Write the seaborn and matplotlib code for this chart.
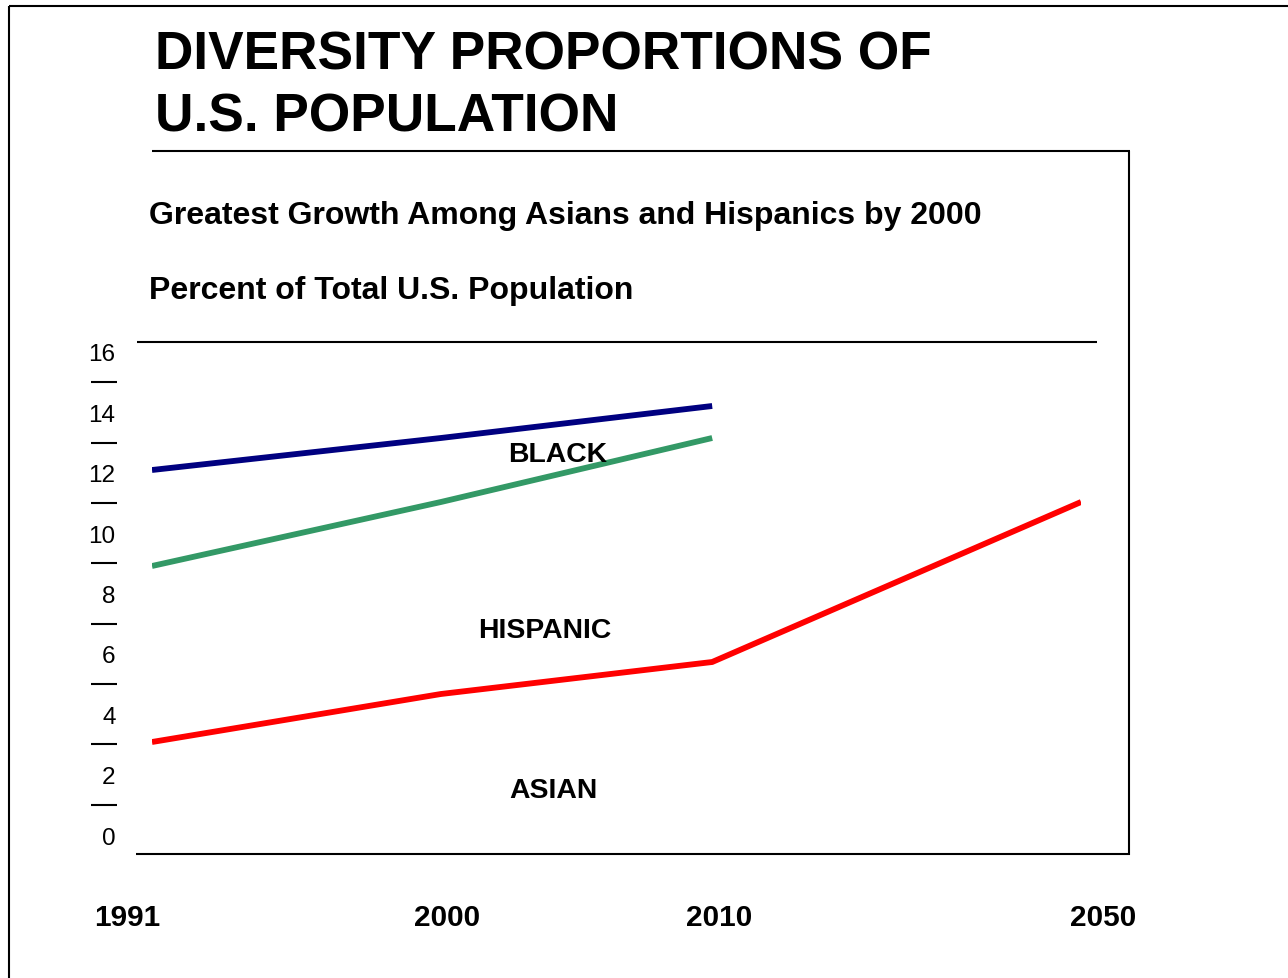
"""
Diversity proportions of U.S. population - slide style line chart
"""

import numpy as np
import pandas as pd
import matplotlib
matplotlib.use('Agg')
import matplotlib.pyplot as plt
import matplotlib.transforms as mtransforms
from matplotlib.lines import Line2D
from matplotlib.scale import FuncScale
import seaborn as sns

sns.set_style('white')
plt.rcParams['font.family'] = ['Liberation Sans', 'DejaVu Sans']
plt.rcParams['text.color'] = 'black'
plt.rcParams['xtick.color'] = 'black'
plt.rcParams['ytick.color'] = 'black'

# ----------------------------------------------------------------------------
# DATA (percent of total U.S. population)
# ----------------------------------------------------------------------------
years = [1991, 2000, 2010, 2050]
black_years = [1991, 2000, 2010]
black_pct = [12.0, 13.0, 14.0]
hispanic_years = [1991, 2000, 2010]
hispanic_pct = [9.0, 11.0, 13.0]
asian_years = [1991, 2000, 2010, 2050]
asian_pct = [3.5, 5.0, 6.0, 11.0]
groups = ['BLACK', 'HISPANIC', 'ASIAN']
ytick_vals = [0, 2, 4, 6, 8, 10, 12, 14, 16]

df = pd.concat([
    pd.DataFrame({'year': black_years, 'pct': black_pct, 'group': 'BLACK'}),
    pd.DataFrame({'year': hispanic_years, 'pct': hispanic_pct, 'group': 'HISPANIC'}),
    pd.DataFrame({'year': asian_years, 'pct': asian_pct, 'group': 'ASIAN'}),
], ignore_index=True)

palette = {'BLACK': '#000080', 'HISPANIC': '#339966', 'ASIAN': '#FF0000'}

# ----------------------------------------------------------------------------
# LAYOUT (slide is drawn in pixel units)
# ----------------------------------------------------------------------------
W, H = 1288, 979


def fx(px):
    return px / W


def fy(py):
    return 1 - py / H


# year columns are not evenly spaced on the slide
col_frac = [0.0, 0.311, 0.603, 1.0]

fig = plt.figure(figsize=(W / 100, H / 100), dpi=100)

ax = fig.add_axes([fx(152), fy(855), (1081 - 152) / W, (855 - 343) / H])
ax.set_xscale(FuncScale(ax.xaxis, (lambda v: np.interp(v, years, col_frac),
                                   lambda v: np.interp(v, col_frac, years))))

sns.lineplot(data=df, x='year', y='pct', hue='group', hue_order=groups,
             palette=palette, linewidth=4.2, errorbar=None, legend=False,
             sort=False, ax=ax)
for ln in ax.lines:
    ln.set_solid_capstyle('butt')
    ln.set_solid_joinstyle('miter')

ax.set_xlim(years[0], years[-1])
ax.set_ylim(0, 16)
for s in ax.spines.values():
    s.set_visible(False)
ax.patch.set_visible(False)
ax.set_xlabel('')
ax.set_ylabel('')
ax.set_yticks([])
ax.set_xticks(years)
ax.set_xticklabels([str(y) for y in years], fontsize=21.4, fontweight='bold')
ax.tick_params(axis='x', length=0, pad=35.5)

# nudge the year labels to where they sit on the slide
nudge_px = [-25, 6, 7, 22]
for lab, dx in zip(ax.get_xticklabels(), nudge_px):
    lab.set_transform(lab.get_transform() +
                      mtransforms.ScaledTranslation(dx / 100, 0, fig.dpi_scale_trans))

# group labels
ax.text(0.437, 0.781, 'BLACK', transform=ax.transAxes, ha='center', va='center',
        fontsize=20.4, fontweight='bold', zorder=5)
ax.text(0.423, 0.437, 'HISPANIC', transform=ax.transAxes, ha='center', va='center',
        fontsize=20.4, fontweight='bold', zorder=5)
ax.text(0.4316, 0.125, 'ASIAN', transform=ax.transAxes, ha='center', va='center',
        fontsize=20.4, fontweight='bold', zorder=5)

# y labels column with dashes between the numbers
ax_lab = fig.add_axes([fx(117), fy(855), 0.005, (855 - 343) / H])
ax_lab.set_ylim(-0.629, 16.33)
ax_lab.set_xticks([])
ax_lab.patch.set_visible(False)
for s in ax_lab.spines.values():
    s.set_visible(False)
ax_lab.set_yticks(ytick_vals)
ax_lab.set_yticklabels([str(v) for v in ytick_vals], fontsize=17.5)
ax_lab.set_yticks([v + 1 for v in ytick_vals[:-1]], minor=True)
ax_lab.tick_params(axis='y', which='major', left=True, length=0, pad=1)
ax_lab.tick_params(axis='y', which='minor', left=True, length=18.7, width=1.5,
                   color='black', direction='out')

# ----------------------------------------------------------------------------
# SLIDE FRAME AND RULES
# ----------------------------------------------------------------------------
def rule(x0, y0, x1, y1, lw=1.5):
    fig.add_artist(Line2D([fx(x0), fx(x1)], [fy(y0), fy(y1)], color='black',
                          linewidth=lw, transform=fig.transFigure,
                          solid_capstyle='butt'))


rule(9, 7, W, 7)          # slide top border
rule(9, 7, 9, H)          # slide left border
rule(152, 152, 1130, 152)  # box top under title
rule(1129, 152, 1129, 856)  # box right
rule(136, 855, 1130, 855)  # baseline
rule(137, 343, 1097, 343)  # top of plot (16 %)

# ----------------------------------------------------------------------------
# TEXT
# ----------------------------------------------------------------------------
fig.text(fx(155), fy(70), 'DIVERSITY PROPORTIONS OF', fontsize=38.3,
         fontweight='bold', va='baseline', ha='left')
fig.text(fx(155), fy(132), 'U.S. POPULATION', fontsize=38.3,
         fontweight='bold', va='baseline', ha='left')
fig.text(fx(149), fy(224), 'Greatest Growth Among Asians and Hispanics by 2000',
         fontsize=23, fontweight='bold', va='baseline', ha='left')
fig.text(fx(149), fy(299), 'Percent of Total U.S. Population',
         fontsize=23, fontweight='bold', va='baseline', ha='left')

fig.savefig('out.png', dpi=100)
plt.close(fig)
